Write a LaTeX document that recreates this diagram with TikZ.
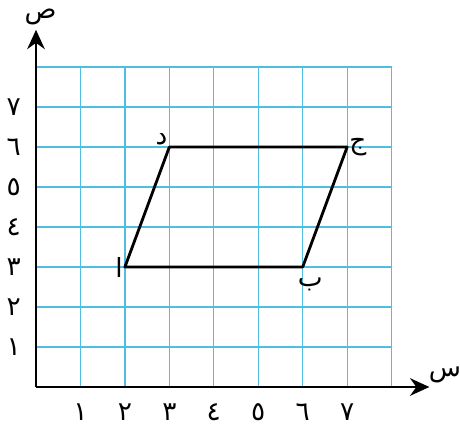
\documentclass[tikz,border=0pt]{standalone}
\usepackage{fontspec}
\newfontfamily\arabicfont[Script=Arabic]{DejaVu Sans}
\TeXXeTstate=1
\usetikzlibrary{arrows.meta}
\definecolor{gridblue}{RGB}{80,190,225}
\tikzset{
  gridline/.style={gridblue,line width=0.7pt},
  axis/.style={black,line width=1.3pt,-{Stealth[length=11pt,width=10pt]}},
  side/.style={black,line width=1.6pt,line join=round},
  ar/.style={font=\arabicfont\fontsize{15}{17}\selectfont,inner sep=1pt}
}
\newcommand{\ar}[1]{\beginR #1\endR}
\begin{document}
\begin{tikzpicture}[x=0.889cm,y=0.8cm]
    \useasboundingbox (-0.72cm,-0.82cm) rectangle (8.48cm,7.74cm);
    \draw[gridline,xstep=0.889cm,ystep=0.8cm] (0,0) grid (8,8);
    \coordinate (O) at (0,0);
    \coordinate (xend) at (8.85,0);
    \coordinate (yend) at (0,8.93);
    \draw[axis] (O) -- (xend);
    \draw[axis] (O) -- (yend);
    \node[ar] (xlab) at (9.2,0.3) {\ar{س}};
    \node[ar] (ylab) at (0.1,9.25) {\ar{ص}};
    % ticks
    \foreach \i/\d in {1/١,2/٢,3/٣,4/٤,5/٥,6/٦,7/٧} {
        \node[ar] (xt\i) at (\i,-0.62) {\ar{\d}};
        \node[ar] (yt\i) at (-0.5,\i) {\ar{\d}};
    }
    % parallelogram
    \coordinate (A) at (2,3);
    \coordinate (B) at (6,3);
    \coordinate (C) at (7,6);
    \coordinate (D) at (3,6);
    \draw[side] (A) -- (B) -- (C) -- (D) -- cycle;
    \node[ar,left] (Alab) at (A) {\ar{ا}};
    \node[ar,below right,xshift=-4pt,yshift=-5pt] (Blab) at (B) {\ar{ب}};
    \node[ar,right] (Clab) at (C) {\ar{ج}};
    \node[ar,above left] (Dlab) at (D) {\ar{د}};
\end{tikzpicture}
\end{document}
